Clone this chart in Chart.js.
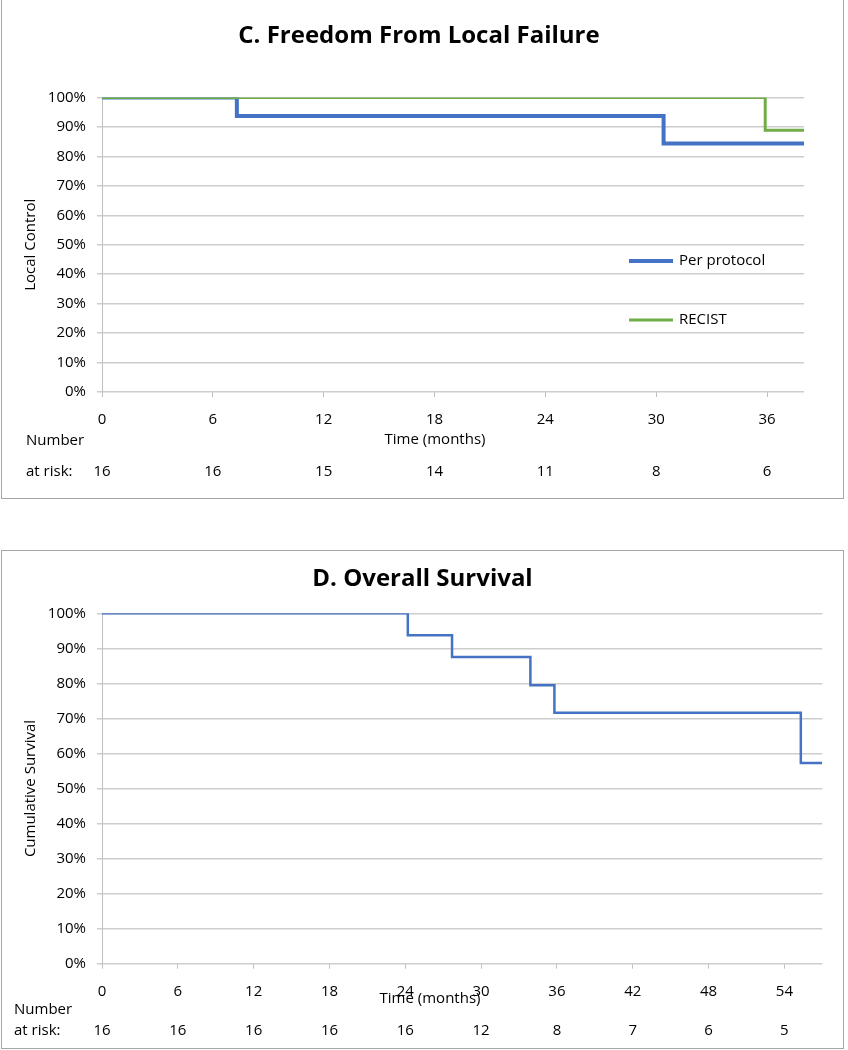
<!DOCTYPE html>
<html><head><meta charset="utf-8">
<script src="https://cdn.jsdelivr.net/npm/chart.js@4"></script>
<style>
html,body{margin:0;padding:0;background:#fff;}
body{width:848px;height:1050px;position:relative;overflow:hidden;}
.panel{position:absolute;box-sizing:border-box;border:1px solid #a6a6a6;}
#frameC{left:1px;top:-2px;width:843px;height:501px;}
#frameD{left:1px;top:550px;width:843px;height:499px;}
canvas{position:absolute;left:0;}
#chartC{top:0;}
#chartD{top:550px;}
</style></head><body>
<div class="panel" id="frameC"></div>
<div class="panel" id="frameD"></div>
<canvas id="chartC" width="848" height="500"></canvas>
<canvas id="chartD" width="848" height="500"></canvas>
<script>
// ---------- Data: Panel C ----------
const titleC = 'C. Freedom From Local Failure';
const timesPerProtocol = [0, 7.3, 30.4, 38];
const valuesPerProtocol = [100, 93.75, 84.4, 84.4];
const timesRecist = [0, 35.9, 38];
const valuesRecist = [100, 88.9, 88.9];
const riskTimesC = [0, 6, 12, 18, 24, 30, 36];
const riskCountsC = [16, 16, 15, 14, 11, 8, 6];

// ---------- Data: Panel D ----------
const titleD = 'D. Overall Survival';
const timesOS = [0, 24.2, 27.7, 33.9, 35.8, 55.3, 57];
const valuesOS = [100, 93.75, 87.5, 79.5, 71.6, 57.3, 57.3];
const riskTimesD = [0, 6, 12, 18, 24, 30, 36, 42, 48, 54];
const riskCountsD = [16, 16, 16, 16, 16, 12, 8, 7, 6, 5];

const FONT = '"Open Sans", Lato, "DejaVu Sans", sans-serif';
Chart.defaults.font.family = FONT;
Chart.defaults.color = '#000';

const toPts = (xs, ys) => xs.map((x, i) => ({x: x, y: ys[i]}));

const kmExtras = {
  id: 'kmExtras',
  afterDraw(chart, args, o) {
    const ctx = chart.ctx, xs = chart.scales.x;
    ctx.save();
    ctx.fillStyle = '#000';
    ctx.font = '15px ' + FONT;
    ctx.textBaseline = 'middle';
    ctx.textAlign = 'center';
    ctx.fillText(o.xTitle, o.xTitleX, o.xTitleY);
    o.riskTimes.forEach((t, i) => ctx.fillText(String(o.riskCounts[i]), xs.getPixelForValue(t), o.riskY));
    ctx.textAlign = 'left';
    ctx.fillText('Number', o.labelX, o.numberY);
    ctx.fillText('at risk:', o.labelX, o.riskY);
    if (o.legend) {
      chart.data.datasets.forEach((ds, i) => {
        const y = o.legend.y[i];
        ctx.strokeStyle = ds.borderColor;
        ctx.lineWidth = ds.borderWidth;
        ctx.beginPath();
        ctx.moveTo(o.legend.x0, y);
        ctx.lineTo(o.legend.x1, y);
        ctx.stroke();
        ctx.fillText(ds.label, o.legend.textX, y);
      });
    }
    ctx.restore();
  }
};

function makeOptions(cfg) {
  return {
    responsive: false,
    animation: false,
    layout: {padding: {left: 0, right: cfg.padRight, top: 0, bottom: 0}},
    plugins: {
      legend: {display: false},
      tooltip: {enabled: false},
      title: {
        display: true, text: cfg.title, color: '#000',
        font: {size: 24, weight: 'bold', family: FONT},
        padding: {top: cfg.titlePadTop, bottom: cfg.titlePadBottom}
      },
      kmExtras: cfg.extras
    },
    scales: {
      x: {
        type: 'linear', min: 0, max: cfg.xMax,
        afterFit: s => { s.height = cfg.xHeight; },
        afterBuildTicks: s => { s.ticks = s.ticks.filter(t => t.value % 6 === 0); },
        border: {display: false},
        grid: {drawOnChartArea: false, drawTicks: true, tickLength: 5, color: '#bfbfbf', lineWidth: 1},
        ticks: {stepSize: 6, padding: 14, color: '#000', font: {size: 15}}
      },
      y: {
        min: 0, max: 100,
        afterFit: s => { s.width = 102; },
        border: {display: true, color: '#bfbfbf', width: 1},
        grid: {color: '#cdcdcd', lineWidth: 1.5, tickLength: 5},
        ticks: {stepSize: 10, padding: 11, color: '#000', font: {size: 15}, callback: v => v + '%'},
        title: {display: true, text: cfg.yTitle, color: '#000', font: {size: 15}, padding: {top: 22, bottom: 0}}
      },
      yRightSpace: {
        type: 'linear', position: 'right', display: true, min: 0, max: 100,
        afterFit: s => { s.width = cfg.rightSpace; },
        border: {display: false},
        grid: {display: false, drawTicks: false},
        ticks: {display: false}
      }
    }
  };
}

new Chart(document.getElementById('chartC'), {
  type: 'line',
  data: {
    datasets: [
      {label: 'Per protocol', data: toPts(timesPerProtocol, valuesPerProtocol), stepped: true, order: 1,
       borderColor: '#4472c4', borderWidth: 4, pointRadius: 0, fill: false},
      {label: 'RECIST', data: toPts(timesRecist, valuesRecist), stepped: true, order: 0,
       borderColor: '#70ad47', borderWidth: 3, pointRadius: 0, fill: false}
    ]
  },
  options: makeOptions({
    title: titleC, yTitle: 'Local Control', xMax: 38, padRight: 10, rightSpace: 34,
    titlePadTop: 21.5, titlePadBottom: 47.2, xHeight: 108,
    extras: {xTitle: 'Time (months)', xTitleX: 435, xTitleY: 440,
      riskTimes: riskTimesC, riskCounts: riskCountsC, riskY: 472, numberY: 441, labelX: 26,
      legend: {x0: 629, x1: 673, textX: 679, y: [261, 320]}}
  }),
  plugins: [kmExtras]
});

new Chart(document.getElementById('chartD'), {
  type: 'line',
  data: {
    datasets: [
      {label: 'Overall survival', data: toPts(timesOS, valuesOS), stepped: true,
       borderColor: '#4472c4', borderWidth: 2.5, pointRadius: 0, fill: false}
    ]
  },
  options: makeOptions({
    title: titleD, yTitle: 'Cumulative Survival', xMax: 57, padRight: 3, rightSpace: 22.7,
    titlePadTop: 14.6, titlePadBottom: 19.9, xHeight: 86.3,
    extras: {xTitle: 'Time (months)', xTitleX: 430, xTitleY: 449,
      riskTimes: riskTimesD, riskCounts: riskCountsD, riskY: 481, numberY: 460, labelX: 14}
  }),
  plugins: [kmExtras]
});
</script>
</body></html>
